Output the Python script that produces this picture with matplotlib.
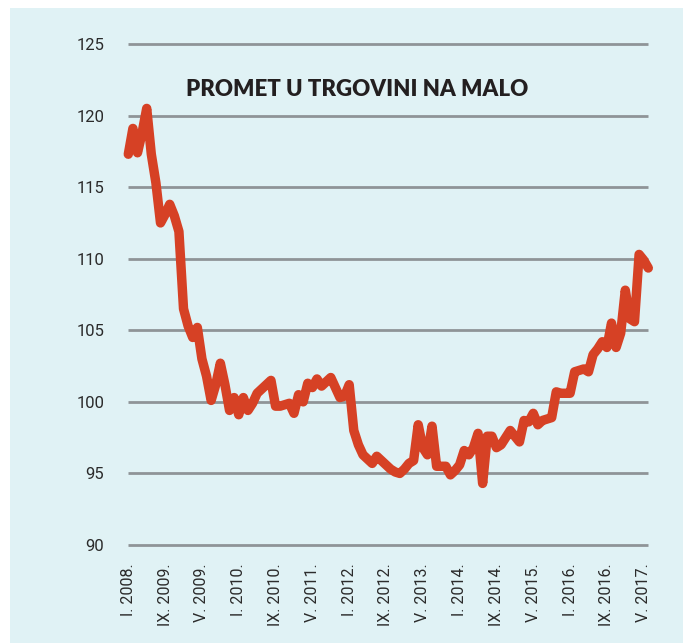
import matplotlib
matplotlib.use("Agg")
import matplotlib.pyplot as plt
from matplotlib import font_manager
from matplotlib.patches import Rectangle

# ---- data (monthly index, Jan 2008 ... Jun 2017) ----
values = [
    117.3, 119.1, 117.4, 118.8, 120.5, 117.3, 115.3, 112.5, 113.1, 113.8,
    113.0, 111.9, 106.5, 105.3, 104.5, 105.2, 103.0, 101.8, 100.1, 101.2,
    102.7, 101.2, 99.4, 100.3, 99.1, 100.3, 99.4, 99.9, 100.6, 100.9,
    101.2, 101.5, 99.7, 99.7, 99.8, 99.9, 99.2, 100.5, 100.0, 101.3,
    101.0, 101.6, 101.1, 101.4, 101.7, 101.0, 100.3, 100.4, 101.2, 98.0,
    97.0, 96.3, 96.0, 95.7, 96.2, 95.9, 95.6, 95.3, 95.1, 95.0,
    95.3, 95.7, 95.9, 98.4, 96.8, 96.3, 98.3, 95.5, 95.5, 95.5,
    94.9, 95.2, 95.6, 96.6, 96.3, 96.8, 97.8, 94.3, 97.6, 97.6,
    96.8, 97.0, 97.5, 98.0, 97.6, 97.2, 98.7, 98.6, 99.2, 98.4,
    98.7, 98.8, 98.9, 100.7, 100.6, 100.6, 100.6, 102.1, 102.2, 102.3,
    102.1, 103.3, 103.7, 104.2, 103.8, 105.5, 103.8, 104.8, 107.8, 105.8,
    105.6, 110.3, 109.9, 109.35,
]
months = list(range(len(values)))

tick_months = [0, 8, 16, 24, 32, 40, 48, 56, 64, 72, 80, 88, 96, 104, 112]
tick_labels = ["I. 2008.", "IX. 2009.", "V. 2009.", "I. 2010.", "IX. 2010.",
               "V. 2011.", "I. 2012.", "IX. 2012.", "V. 2013.", "I. 2014.",
               "IX. 2014.", "V. 2015.", "I. 2016.", "IX. 2016.", "V. 2017."]
y_ticks = [90, 95, 100, 105, 110, 115, 120, 125]
title = "PROMET U TRGOVINI NA MALO"

names = set(font_manager.get_font_names())
narrow = "Liberation Sans Narrow" if "Liberation Sans Narrow" in names else "Roboto"
bold_font = "Lato" if "Lato" in names else "DejaVu Sans"

W, H = 683, 643
fig = plt.figure(figsize=(W / 100, H / 100), dpi=100)
fig.patch.set_facecolor("white")
bg = "#e0f2f5"
fig.patches.append(Rectangle((10 / W, 0), 1 - 10 / W, 1 - 8 / H,
                             transform=fig.transFigure, facecolor=bg,
                             edgecolor="none", zorder=-10))

ppm = 520 / 113.0       # pixels per month
ppu = 501 / 35.0        # pixels per unit
x0_px, x1_px = 128.3 - ppm, 128.3 + 114 * ppm
y_bot_px, y_top_px = 545 + 0.5 * ppu, 44 - 0.5 * ppu
ax = fig.add_axes([x0_px / W, 1 - y_bot_px / H, (x1_px - x0_px) / W,
                   (y_bot_px - y_top_px) / H])
ax.set_facecolor("none")
ax.set_xlim(-1, 114)
ax.set_ylim(89.5, 125.5)
for s in ax.spines.values():
    s.set_visible(False)

ax.hlines(y_ticks, 0, len(values) - 1, colors="#8f9497", linewidth=2.0, zorder=1)
ax.plot(months, values, color="#d64125", linewidth=6.8,
        solid_joinstyle="round", solid_capstyle="round", zorder=3, clip_on=False)

ax.set_yticks(y_ticks)
ax.set_yticklabels([str(v) for v in y_ticks], family=[narrow, "DejaVu Sans"],
                   fontsize=12, color="#2b2b2b")
ax.tick_params(axis="y", length=0, pad=14)
ax.set_xticks(tick_months)
ax.set_xticklabels(tick_labels, rotation=90, family=[narrow, "DejaVu Sans"],
                   fontsize=11.5, color="#2b2b2b", ha="center", va="top")
ax.tick_params(axis="x", length=0, pad=8)

fig.text(357 / W, 1 - 90 / H, title, ha="center", va="center",
         family=[bold_font, "DejaVu Sans"], fontweight="heavy", fontsize=16,
         color="#231f20")

fig.savefig("out.png", dpi=100, facecolor="white")
